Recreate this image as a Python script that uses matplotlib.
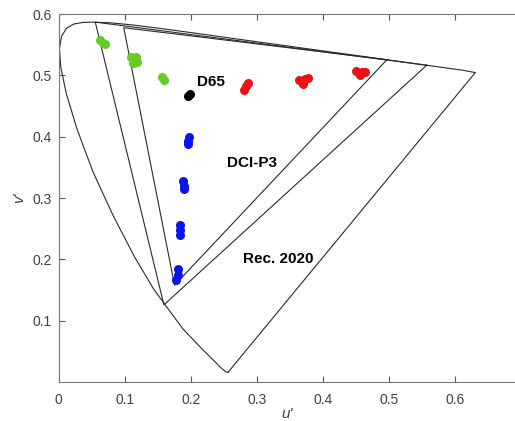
import matplotlib
matplotlib.use('Agg')
import matplotlib.pyplot as plt

plt.rcParams['font.family'] = ['Liberation Sans', 'DejaVu Sans']

# spectral locus, CIE 1976 u'v' (380 nm .. 700 nm)
locus_u = [0.2568, 0.2564, 0.2557, 0.2545, 0.2522, 0.2461, 0.2347, 0.2161, 0.1877,
           0.1441, 0.1147, 0.0828, 0.0521, 0.0282, 0.0119, 0.0035, 0.0014, 0.0046,
           0.0123, 0.0231, 0.0360, 0.0501, 0.0792, 0.1127, 0.1531, 0.2026, 0.2623,
           0.3315, 0.4035, 0.4692, 0.5203, 0.5565, 0.5830, 0.6005, 0.6109, 0.6300]
locus_v = [0.0166, 0.0163, 0.0159, 0.0159, 0.0169, 0.0226, 0.0350, 0.0549, 0.0871,
           0.1510, 0.2044, 0.2708, 0.3427, 0.4117, 0.4698, 0.5131, 0.5431, 0.5638,
           0.5770, 0.5837, 0.5861, 0.5868, 0.5856, 0.5821, 0.5766, 0.5694, 0.5604,
           0.5501, 0.5393, 0.5296, 0.5219, 0.5165, 0.5125, 0.5099, 0.5084, 0.5045]

# gamut triangles (R, G, B)
p3_u = [0.4964, 0.0986, 0.1754]
p3_v = [0.5255, 0.5777, 0.1579]
rec2020_u = [0.5566, 0.0556, 0.1593]
rec2020_v = [0.5165, 0.5868, 0.1258]

# measured primaries
green_u = [0.062, 0.068, 0.071, 0.110, 0.117, 0.112, 0.118, 0.156, 0.159]
green_v = [0.558, 0.553, 0.551, 0.530, 0.530, 0.520, 0.522, 0.497, 0.493]
red_u = [0.281, 0.283, 0.287, 0.364, 0.372, 0.369, 0.377, 0.450, 0.458, 0.463, 0.455]
red_v = [0.476, 0.482, 0.487, 0.492, 0.494, 0.486, 0.495, 0.507, 0.506, 0.505, 0.500]
blue_u = [0.197, 0.196, 0.195, 0.188, 0.189, 0.190, 0.183, 0.184, 0.184, 0.181, 0.180, 0.178]
blue_v = [0.400, 0.393, 0.388, 0.328, 0.320, 0.314, 0.256, 0.248, 0.240, 0.184, 0.175, 0.167]
d65_u = [0.196, 0.199]
d65_v = [0.466, 0.470]

fig = plt.figure(figsize=(5.15, 4.21), dpi=100)
ax = fig.add_axes([0.1136, 0.0926, 0.8864, 0.8741])

lc = '#2a2a2a'
ax.plot(locus_u + [locus_u[0]], locus_v + [locus_v[0]], color=lc, lw=0.8)
ax.plot(p3_u + [p3_u[0]], p3_v + [p3_v[0]], color=lc, lw=0.8)
ax.plot(rec2020_u + [rec2020_u[0]], rec2020_v + [rec2020_v[0]], color=lc, lw=0.8)

ms = 6.5
ax.plot(green_u, green_v, 'o', color='#66cc22', ms=ms, mec='none')
ax.plot(red_u, red_v, 'o', color='#ee1111', ms=ms, mec='none')
ax.plot(blue_u, blue_v, 'o', color='#0a14f0', ms=ms, mec='none')
ax.plot(d65_u, d65_v, 'o', color='black', ms=ms, mec='none')

ax.text(0.230, 0.489, 'D65', fontsize=11, fontweight='bold', ha='center', va='center')
ax.text(0.292, 0.357, 'DCI-P3', fontsize=11, fontweight='bold', ha='center', va='center')
ax.text(0.332, 0.200, 'Rec. 2020', fontsize=11, fontweight='bold', ha='center', va='center')

ax.set_xlim(0, 0.69)
ax.set_ylim(0, 0.6)
ax.set_xticks([0, 0.1, 0.2, 0.3, 0.4, 0.5, 0.6])
ax.set_xticklabels(['0', '0.1', '0.2', '0.3', '0.4', '0.5', '0.6'])
ax.set_yticks([0.1, 0.2, 0.3, 0.4, 0.5, 0.6])
ax.set_yticklabels(['0.1', '0.2', '0.3', '0.4', '0.5', '0.6'])
ax.tick_params(direction='in', top=True, right=False, length=4, width=0.8,
               color='#555555', labelcolor='#404040', labelsize=10)
ax.tick_params(axis='x', pad=8)
ax.tick_params(axis='y', pad=5)
for s in ['left', 'bottom', 'top']:
    ax.spines[s].set_color('#777777')
    ax.spines[s].set_linewidth(0.8)
ax.spines['right'].set_visible(False)

ax.set_xlabel("u'", fontsize=11, color='#404040', style='italic', labelpad=0)
ax.set_ylabel("v'", fontsize=11, color='#404040', style='italic', labelpad=4)

fig.savefig('out.png', dpi=100)
